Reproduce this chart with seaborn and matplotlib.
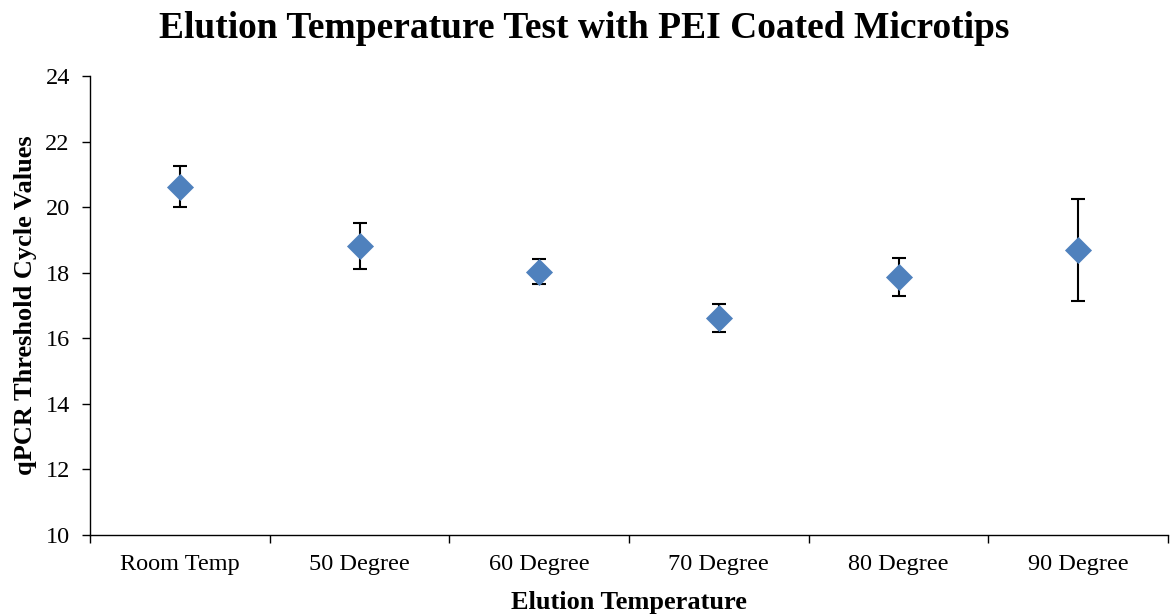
import matplotlib
matplotlib.use("Agg")
import matplotlib.pyplot as plt
import seaborn as sns
import pandas as pd
import numpy as np

categories = ["Room Temp", "50 Degree", "60 Degree", "70 Degree", "80 Degree", "90 Degree"]
ct_values = [20.62, 18.81, 18.03, 16.61, 17.87, 18.69]
ct_errors = [0.63, 0.70, 0.38, 0.43, 0.59, 1.55]

sns.set_theme(style="white")
plt.rcParams['font.family'] = ['Liberation Serif', 'DejaVu Serif']
plt.rcParams['text.color'] = 'black'

df = pd.DataFrame({"cat": categories, "ct": ct_values, "err": ct_errors})

fig = plt.figure(figsize=(11.73, 6.14), dpi=100)
ax = fig.add_axes([90/1173, 1 - 535/614, (1168-90)/1173, (535-76)/614])

pos = np.arange(len(categories))
ax.errorbar(pos, df["ct"], yerr=df["err"], fmt="none", ecolor="black",
            elinewidth=1.5, capsize=4.7, capthick=1.5, zorder=2)
sns.scatterplot(data=df, x="cat", y="ct", marker="D", s=190, color="#4F81BD",
                edgecolor="#4F81BD", linewidth=0, ax=ax, zorder=3)

ax.set_xlim(-0.5, len(categories) - 0.5)
ax.set_ylim(10, 24)
ax.set_yticks(range(10, 25, 2))
ax.set_xticks(pos)
ax.set_xticklabels(categories)
ax.set_xticks(np.arange(-0.5, len(categories), 1.0), minor=True)
ax.tick_params(axis="x", which="major", length=0, pad=14, labelsize=17.5, colors="black")
ax.tick_params(axis="x", which="minor", length=6, width=1, direction="out", color="black", bottom=True)
ax.tick_params(axis="y", which="major", length=5.5, width=1, direction="out", labelsize=17.5,
               colors="black", left=True, pad=9)

for s in ["top", "right"]:
    ax.spines[s].set_visible(False)
for s in ["left", "bottom"]:
    ax.spines[s].set_color("black")
    ax.spines[s].set_linewidth(1)

ax.set_xlabel("Elution Temperature", fontsize=19, fontweight="bold", color="black", labelpad=11)
ax.set_ylabel("qPCR Threshold Cycle Values", fontsize=19, fontweight="bold", color="black", labelpad=6)
fig.suptitle("Elution Temperature Test with PEI Coated Microtips", fontsize=27,
             fontweight="bold", color="black", x=584/1173, y=1 - 11/614, va="top")

fig.savefig("out.png", dpi=100)
